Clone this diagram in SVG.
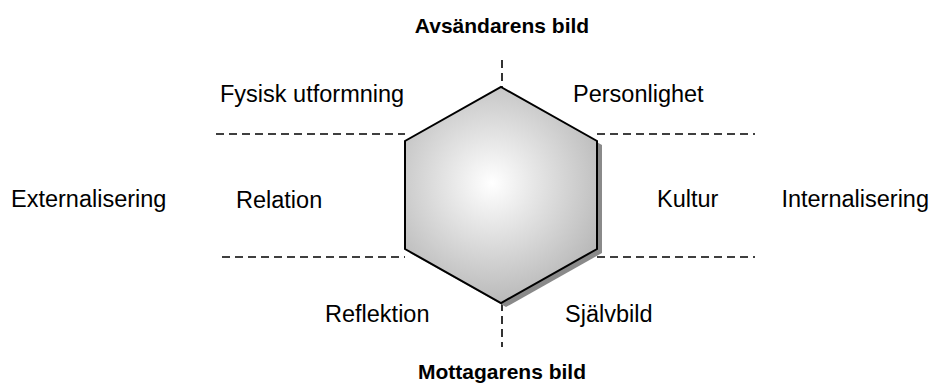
<svg xmlns="http://www.w3.org/2000/svg" width="935" height="385" viewBox="0 0 935 385">
<defs>
<radialGradient id="hexfill" cx="492" cy="183" r="122" gradientUnits="userSpaceOnUse">
<stop offset="0" stop-color="#ffffff"/>
<stop offset="1" stop-color="#b8b8b8"/>
</radialGradient>
</defs>
<style>
.t{font-family:"Liberation Sans",Arial,sans-serif;font-size:23.5px;fill:#000}
.b{font-family:"Liberation Sans",Arial,sans-serif;font-size:21px;font-weight:bold;fill:#000;text-anchor:middle}
.d{stroke:#000;stroke-width:1.6;stroke-dasharray:8,5;fill:none}
</style>
<g id="connectors">
<line class="d" x1="502" y1="60" x2="502" y2="87"/>
<line class="d" x1="502" y1="303" x2="502" y2="347"/>
<line class="d" x1="216" y1="134" x2="405" y2="134"/>
<line class="d" x1="597" y1="134" x2="755" y2="134"/>
<line class="d" x1="222" y1="257" x2="405" y2="257"/>
<line class="d" x1="597" y1="257" x2="755" y2="257"/>
</g>
<g id="hexagon">
<polygon points="506,91 602,145 602,253 506,307 410,253 410,145" fill="#8a8a8a"/>
<polygon points="501,87 597,141 597,249 501,303 405,249 405,141" fill="url(#hexfill)" stroke="#000" stroke-width="2"/>
</g>
<g id="top-label"><text class="b" x="502" y="33">Avsändarens bild</text></g>
<g id="bottom-label"><text class="b" x="502" y="379">Mottagarens bild</text></g>
<g id="fysisk"><text class="t" x="220" y="102">Fysisk utformning</text></g>
<g id="personlighet"><text class="t" x="573" y="102">Personlighet</text></g>
<g id="externalisering"><text class="t" x="11" y="207">Externalisering</text></g>
<g id="relation"><text class="t" x="236" y="208">Relation</text></g>
<g id="kultur"><text class="t" x="657" y="207">Kultur</text></g>
<g id="internalisering"><text class="t" x="929" y="207" text-anchor="end">Internalisering</text></g>
<g id="reflektion"><text class="t" x="325" y="322">Reflektion</text></g>
<g id="sjalvbild"><text class="t" x="565" y="322">Självbild</text></g>
</svg>
